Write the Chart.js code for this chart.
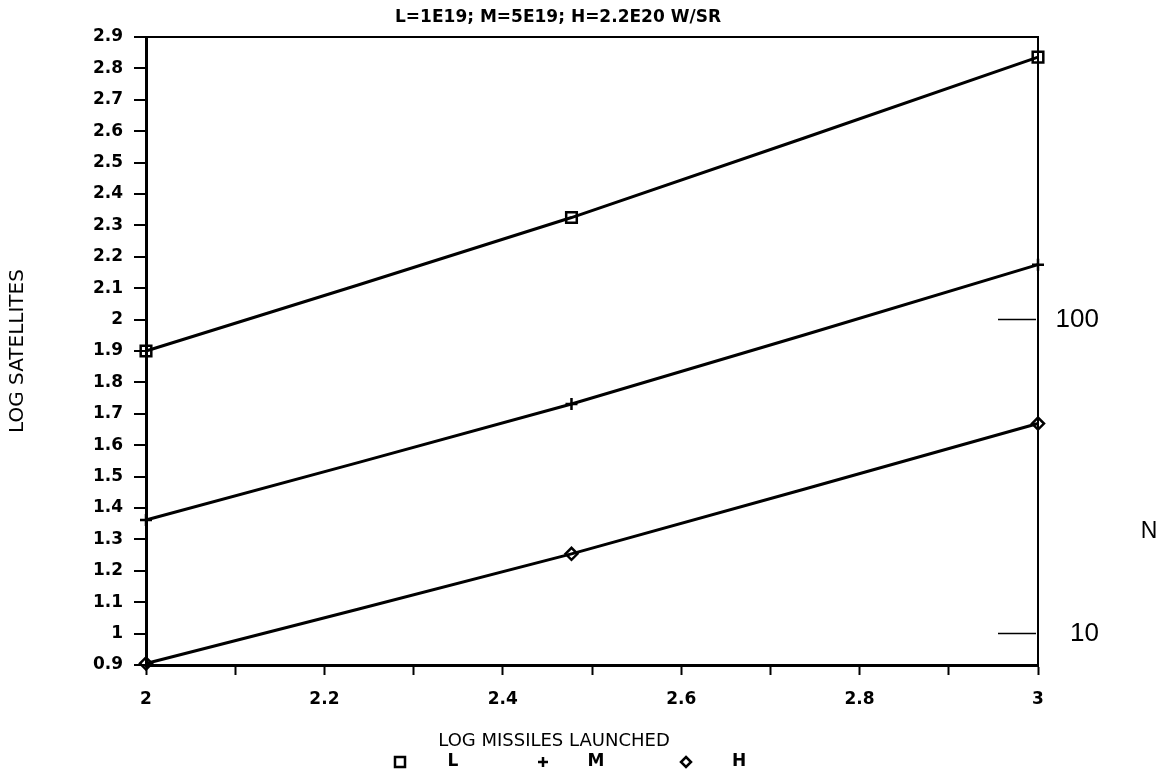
<!DOCTYPE html>
<html lang="en">
<head>
<meta charset="utf-8">
<title>Log satellites vs log missiles launched</title>
<script src="https://cdn.jsdelivr.net/npm/chart.js@4.4.0/dist/chart.umd.min.js"></script>
<style>
  html, body { margin: 0; padding: 0; background: #fff; }
  #grafica { display: block; }
</style>
</head>
<body>
<canvas id="grafica" width="1162" height="776"></canvas>
<script>
/* ===============================
   DATOS
=============================== */
const logMisiles = [2, 2.477, 3];            // log10 de 100, 300, 1000 misiles
const serieL = [1.9, 2.325, 2.836];
const serieM = [1.362, 1.731, 2.175];
const serieH = [0.905, 1.254, 1.669];
const nombresSeries = ["L", "M", "H"];
const estilosSeries = ["rect", "cross", "rectRot"];

const ticksX = [2, 2.1, 2.2, 2.3, 2.4, 2.5, 2.6, 2.7, 2.8, 2.9, 3];
const ticksY = [0.9, 1, 1.1, 1.2, 1.3, 1.4, 1.5, 1.6, 1.7, 1.8, 1.9, 2, 2.1, 2.2, 2.3, 2.4, 2.5, 2.6, 2.7, 2.8, 2.9];
const ticksN = [1, 2];                         // log10 de 10 y 100

const tituloGrafica = "L=1E19; M=5E19; H=2.2E20 W/SR";
const tituloX = "LOG MISSILES LAUNCHED";
const tituloY = "LOG SATELLITES";
const tituloN = "N";

/* ===============================
   ESTILO
=============================== */
const NEGRO = "#000";
const FUENTE = '"DejaVu Sans", sans-serif';
const FUENTE_N = '"Liberation Sans", sans-serif';

Chart.defaults.font.family = FUENTE;
Chart.defaults.color = NEGRO;

const series = [serieL, serieM, serieH].map((valores, i) => ({
  label: nombresSeries[i],
  data: logMisiles.map((x, j) => ({ x, y: valores[j] })),
  borderColor: NEGRO,
  borderWidth: 3,
  tension: 0.2,
  pointStyle: estilosSeries[i],
  pointRadius: i === 0 ? 7.5 : 6,
  pointBorderWidth: 2.5,
  pointBorderColor: NEGRO,
  pointBackgroundColor: "rgba(0,0,0,0)",
  clip: 12,
}));

function marcador(ctx, estilo, x, y, r) {
  ctx.beginPath();
  if (estilo === "rect") {
    ctx.rect(x - r, y - r, 2 * r, 2 * r);
  } else if (estilo === "cross") {
    ctx.moveTo(x - r, y); ctx.lineTo(x + r, y);
    ctx.moveTo(x, y - r); ctx.lineTo(x, y + r);
  } else {
    ctx.moveTo(x, y - r); ctx.lineTo(x + r, y);
    ctx.lineTo(x, y + r); ctx.lineTo(x - r, y); ctx.closePath();
  }
  ctx.stroke();
}

/* ===============================
   TEXTOS, LEYENDA Y ESCALA N
=============================== */
const extras = {
  id: "extras",
  afterDraw(chart) {
    const { ctx, chartArea } = chart;
    const cx = (chartArea.left + chartArea.right) / 2;
    ctx.save();
    ctx.fillStyle = NEGRO;
    ctx.strokeStyle = NEGRO;
    ctx.textBaseline = "middle";
    ctx.textAlign = "center";

    // titulo superior
    ctx.font = "bold 17px " + FUENTE;
    ctx.fillText(tituloGrafica, cx - 34, 18);

    // titulo eje x
    ctx.font = "18px " + FUENTE;
    ctx.fillText(tituloX, cx - 38, 741);

    // leyenda
    ctx.lineWidth = 2.5;
    ctx.font = "bold 17px " + FUENTE;
    chart.data.datasets.forEach((ds, i) => {
      const xm = 400 + i * 143;
      marcador(ctx, ds.pointStyle, xm, 762, 5);
      ctx.fillText(ds.label, xm + 53, 762);
    });

    // marcas interiores de N
    const y2 = chart.scales.y2;
    ctx.lineWidth = 1.5;
    ticksN.forEach(v => {
      const py = y2.getPixelForValue(v);
      ctx.beginPath();
      ctx.moveTo(chartArea.right - 40, py);
      ctx.lineTo(chartArea.right - 2, py);
      ctx.stroke();
    });

    ctx.font = "23px " + FUENTE_N;
    ctx.fillText(tituloN, 1149, 532);
    ctx.restore();
  },
};

/* ===============================
   GRAFICA
=============================== */
new Chart(document.getElementById("grafica"), {
  type: "line",
  data: { datasets: series },
  options: {
    responsive: false,
    animation: false,
    layout: { padding: { top: 37, left: 0, right: 63, bottom: 0 } },
    plugins: {
      legend: { display: false },
      title: { display: false },
      tooltip: { enabled: false },
    },
    scales: {
      x: {
        type: "linear",
        min: 2,
        max: 3,
        afterBuildTicks: s => { s.ticks = ticksX.map(v => ({ value: v })); },
        afterFit: s => { s.height = 111; },
        ticks: {
          autoSkip: false,
          maxRotation: 0,
          padding: 14,
          font: { size: 17, weight: "bold" },
          callback: (v, i) => (i % 2 === 0 ? String(v) : ""),
        },
        grid: { drawOnChartArea: false, tickLength: 10, tickWidth: 2, tickColor: NEGRO },
        border: { color: NEGRO, width: 3 },
      },
      y: {
        min: 0.9,
        max: 2.9,
        afterBuildTicks: s => { s.ticks = ticksY.map(v => ({ value: v })); },
        afterFit: s => { s.width = 146; },
        ticks: {
          autoSkip: false,
          padding: 11,
          font: { size: 17, weight: "bold" },
          callback: v => String(v),
        },
        grid: {
          color: c => (c.tick && c.tick.value === 2.9 ? NEGRO : "rgba(0,0,0,0)"),
          lineWidth: 2,
          tickLength: 12,
          tickWidth: 2,
          tickColor: NEGRO,
        },
        border: { color: NEGRO, width: 3 },
        title: {
          display: true,
          text: tituloY,
          color: NEGRO,
          font: { size: 20 },
          padding: { top: 6, bottom: 0 },
        },
      },
      y2: {
        position: "right",
        min: 0.9,
        max: 2.9,
        afterBuildTicks: s => { s.ticks = ticksN.map(v => ({ value: v })); },
        afterFit: s => { s.width = 61; },
        ticks: {
          padding: 20,
          crossAlign: "far",
          font: { family: FUENTE_N, size: 26 },
          callback: v => String(Math.round(Math.pow(10, v))),
        },
        grid: { display: false, drawTicks: false },
        border: { display: true, color: NEGRO, width: 2 },
      },
    },
  },
  plugins: [extras],
});
</script>
</body>
</html>
